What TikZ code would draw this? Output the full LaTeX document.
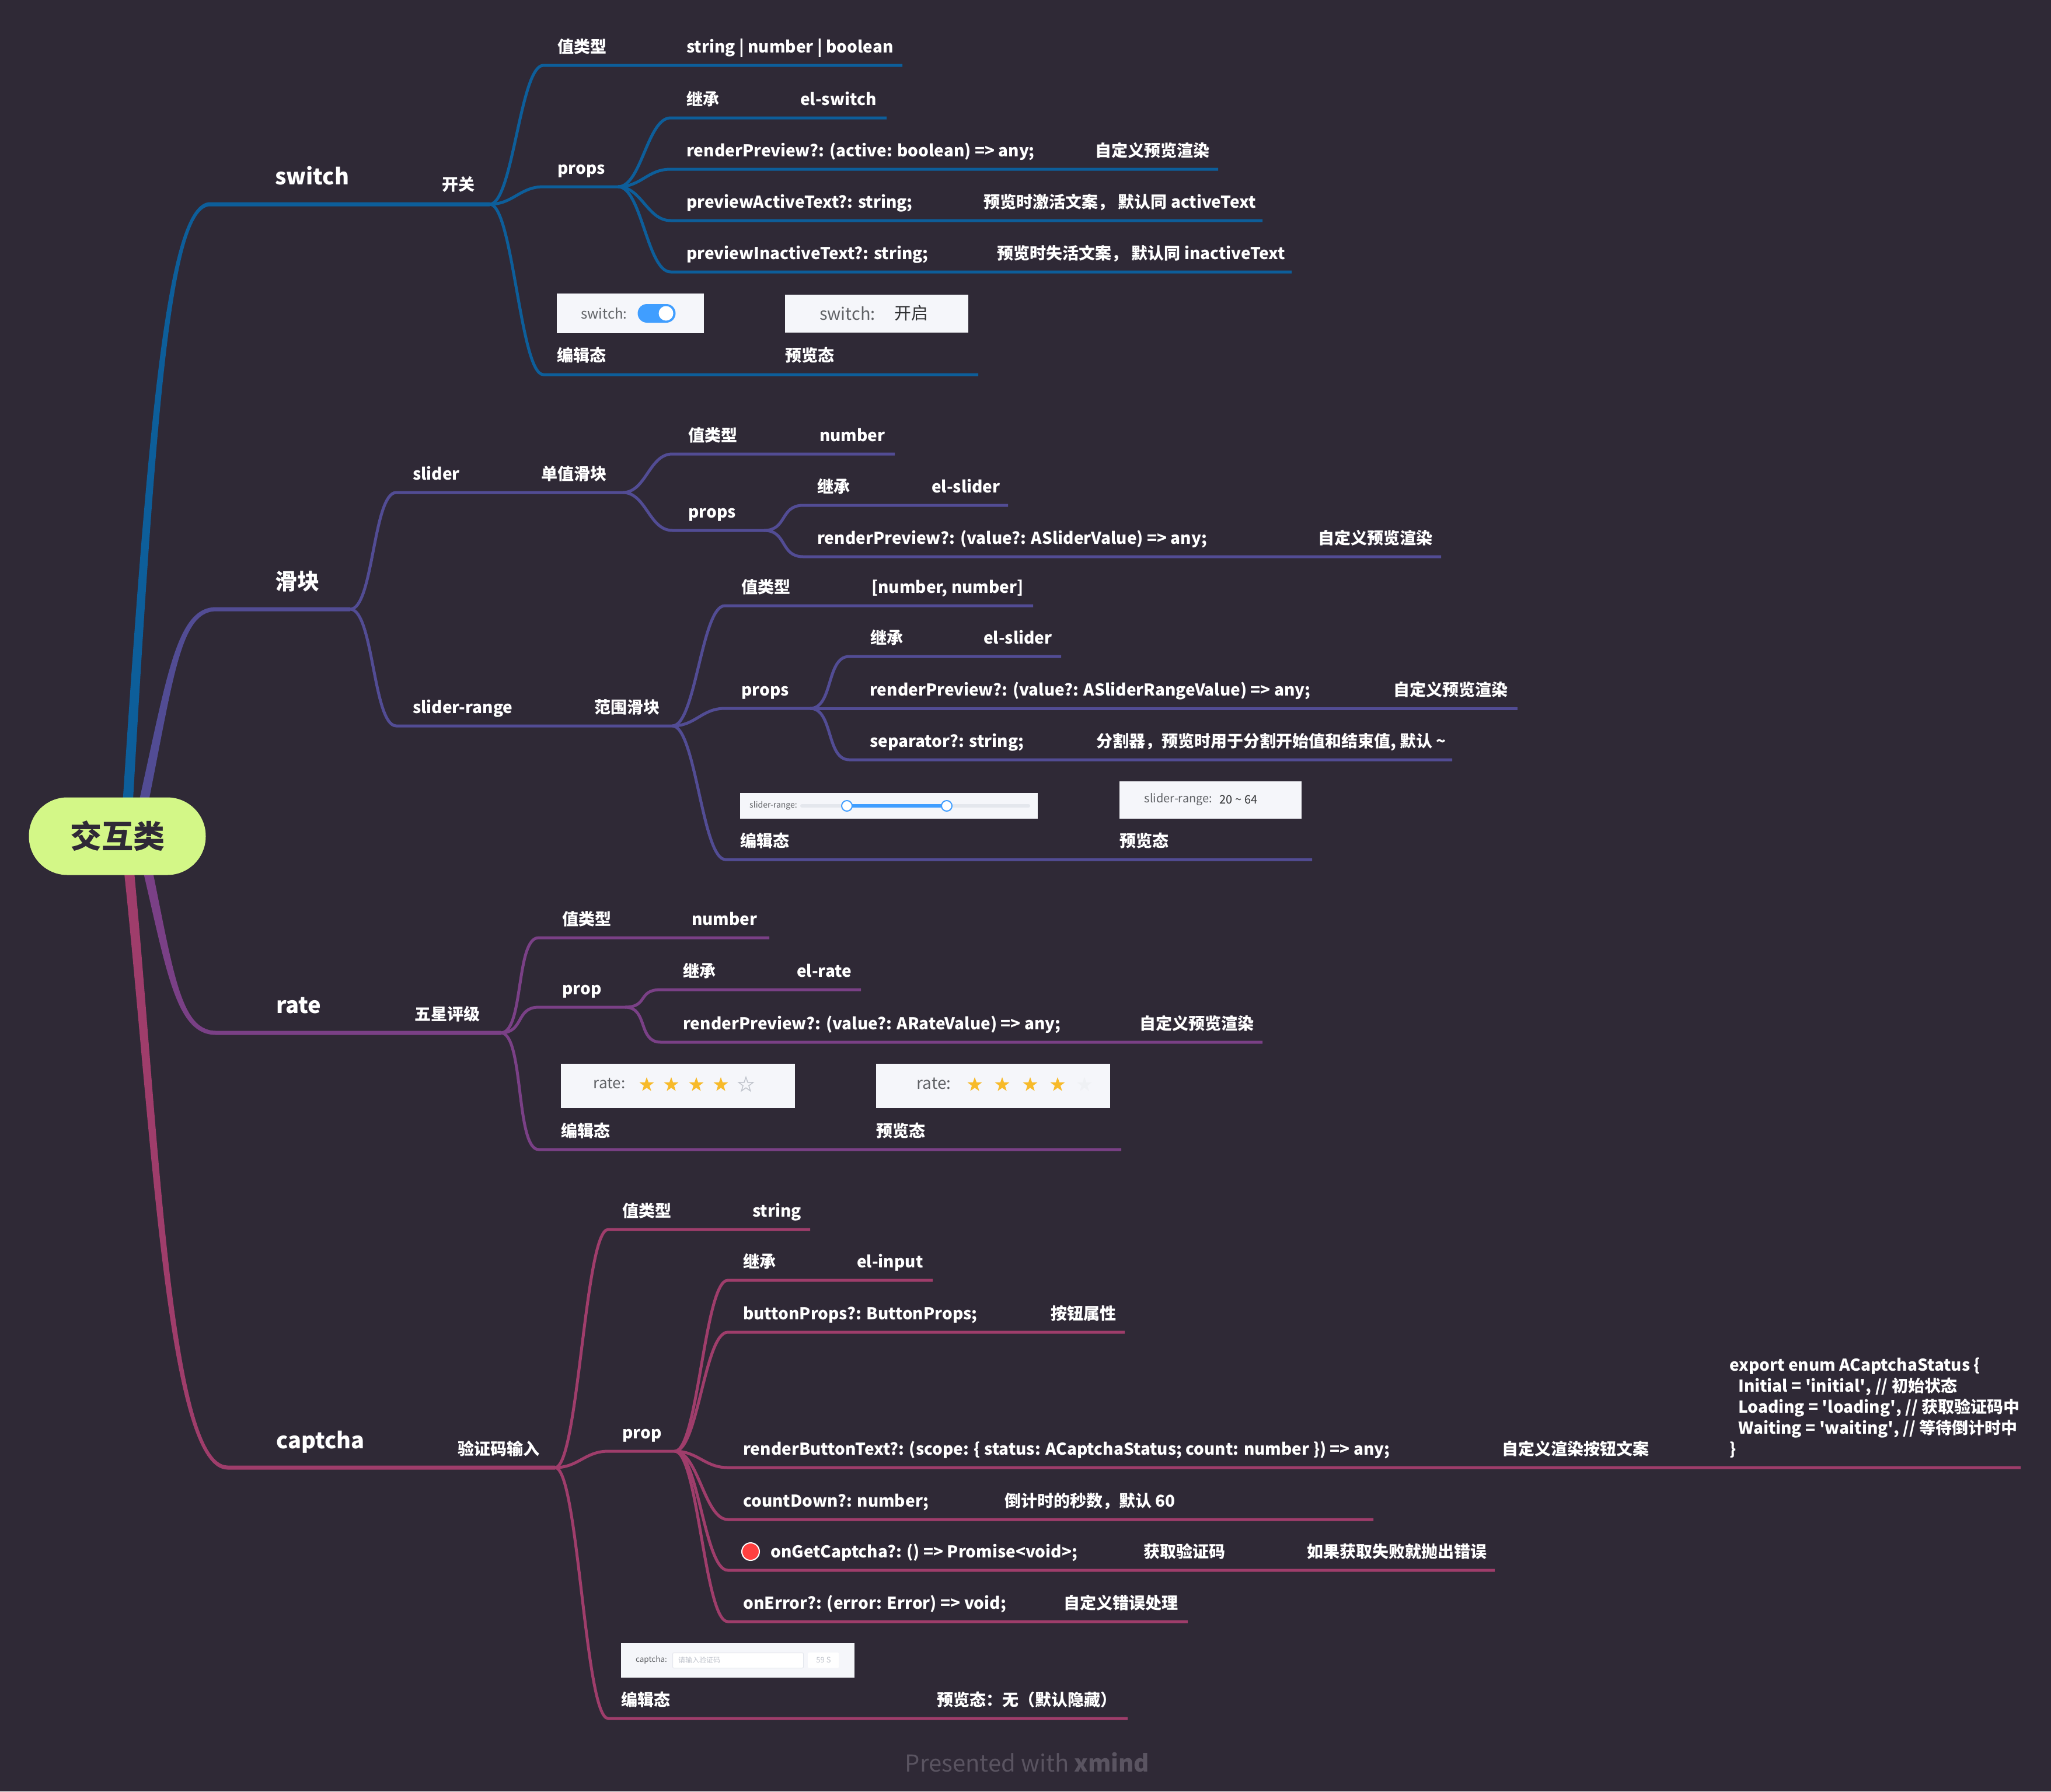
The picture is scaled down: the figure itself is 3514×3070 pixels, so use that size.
\documentclass[tikz,border=0pt]{standalone}
\usepackage{fontspec}
\setmainfont{Noto Sans CJK SC}
\usetikzlibrary{shapes.geometric}
\definecolor{bgc}{HTML}{2F2936}
\definecolor{rootc}{HTML}{D3F787}
\definecolor{swc}{HTML}{0D5E9A}
\definecolor{slc}{HTML}{524C94}
\definecolor{rtc}{HTML}{7A4086}
\definecolor{cpc}{HTML}{9F3D6B}
\definecolor{shotc}{HTML}{F5F6FA}
\definecolor{elblue}{HTML}{409EFF}
\definecolor{elgray}{HTML}{606266}
\definecolor{eltext}{HTML}{303133}
\definecolor{elline}{HTML}{E4E7ED}
\definecolor{elph}{HTML}{C0C4CC}
\definecolor{starc}{HTML}{F7BA2A}
\definecolor{footc}{HTML}{5A5461}
\tikzset{
  lbl/.style={anchor=base west, inner sep=0pt, text=white, font=\fontsize{28}{34}\selectfont\bfseries},
  topic/.style={lbl, font=\fontsize{38}{46}\selectfont\bfseries},
  twig/.style={line width=5pt},
  curv/.style={to path={.. controls +(40,0) and +(-40,0) .. (\tikztotarget)}},
  shot/.style={anchor=north west, fill=shotc, inner sep=0pt},
  uitxt/.style={inner sep=0pt, text=elgray},
  star5/.style={star, star points=5, star point ratio=2.5, minimum size=26pt, inner sep=0pt}
}
\begin{document}
\begin{tikzpicture}[x=1pt,y=-1pt]
\fill[bgc] (0,0) rectangle (3514,3070);
\useasboundingbox (0,0) rectangle (3514,3070);

\coordinate (swF) at (839,350);
\coordinate (slF) at (600,1044);
\coordinate (rtF) at (858,1770);
\coordinate (cpF) at (951,2515);
\fill[swc] (206,1440) .. controls (254,700) and (287,346.5) .. (360,346.5) -- (839,346.5)
  -- (839,353.5) -- (360,353.5) .. controls (293,353.5) and (266,700) .. (224,1440) -- cycle;
\fill[slc] (223,1440) .. controls (284,1180) and (296,1040.5) .. (370,1040.5) -- (600,1040.5)
  -- (600,1047.5) -- (370,1047.5) .. controls (304,1047.5) and (296,1180) .. (241,1440) -- cycle;
\fill[rtc] (231,1433) .. controls (284,1650) and (296,1773.5) .. (370,1773.5) -- (858,1773.5)
  -- (858,1766.5) -- (370,1766.5) .. controls (304,1766.5) and (296,1650) .. (249,1433) -- cycle;
\fill[cpc] (206,1433) .. controls (259,1900) and (281,2518.5) .. (390,2518.5) -- (951,2518.5)
  -- (951,2511.5) -- (390,2511.5) .. controls (289,2511.5) and (271,1900) .. (224,1433) -- cycle;
\node[fill=rootc, rounded corners=66pt, minimum width=303pt, minimum height=133pt, text=bgc, font=\fontsize{54}{60}\selectfont\bfseries] (root) at (201,1433) {交互类};

\node[topic] (sw) at (471,316) {switch};
\node[lbl] (swZh) at (757,326) {开关};
\coordinate (swT) at (931,112);
\coordinate (swTe) at (1546,112);
\coordinate (swP) at (931,320);
\coordinate (swPF) at (1059,320);
\coordinate (swV) at (931,642);
\coordinate (swVe) at (1676,642);
\draw[twig,swc] (swF) to[curv] (swT) -- (swTe);
\draw[twig,swc] (swF) to[curv] (swP) -- (swPF);
\draw[twig,swc] (swF) to[curv] (swV) -- (swVe);
\node[lbl] (swT1) at (955,90) {值类型};
\node[lbl] (swT2) at (1176,90) {string | number | boolean};
\node[lbl] (swP0) at (955,298) {props};
\coordinate (swP1) at (1149,202);
\coordinate (swP1e) at (1519,202);
\coordinate (swP2) at (1149,290);
\coordinate (swP2e) at (2087,290);
\coordinate (swP3) at (1149,378);
\coordinate (swP3e) at (2163,378);
\coordinate (swP4) at (1149,466);
\coordinate (swP4e) at (2213,466);
\draw[twig,swc] (swPF) to[curv] (swP1) -- (swP1e);
\draw[twig,swc] (swPF) to[curv] (swP2) -- (swP2e);
\draw[twig,swc] (swPF) to[curv] (swP3) -- (swP3e);
\draw[twig,swc] (swPF) to[curv] (swP4) -- (swP4e);
\node[lbl] (swP1a) at (1176,180) {继承};
\node[lbl] (swP1b) at (1371,180) {el-switch};
\node[lbl] (swP2a) at (1176,268) {renderPreview?: (active: boolean) => any;};
\node[lbl] (swP2b) at (1876,268) {自定义预览渲染};
\node[lbl] (swP3a) at (1176,356) {previewActiveText?: string;};
\node[lbl] (swP3b) at (1685,356) {预览时激活文案， 默认同 activeText};
\node[lbl] (swP4a) at (1176,444) {previewInactiveText?: string;};
\node[lbl] (swP4b) at (1708,444) {预览时失活文案， 默认同 inactiveText};
\node[shot, minimum width=252pt, minimum height=68pt] (swEdit) at (954,503) {};
\node[shot, minimum width=314pt, minimum height=65pt] (swPrev) at (1345,505) {};
\node[uitxt, font=\fontsize{24}{28}\selectfont] (swEditT) at (1035,537) {switch:};
\node[fill=elblue, rounded corners=16pt, minimum width=65pt, minimum height=32pt, inner sep=0pt] (swTog) at (1125,537) {};
\node[circle, fill=white, minimum size=25pt, inner sep=0pt] (swKnob) at (1141,537) {};
\node[uitxt, font=\fontsize{29}{34}\selectfont] (swPrevT) at (1452,537) {switch:};
\node[uitxt, text=eltext, font=\fontsize{29}{34}\selectfont] (swPrevV) at (1561,537) {开启};
\node[lbl] (swV1) at (954,619) {编辑态};
\node[lbl] (swV2) at (1345,619) {预览态};

\node[topic] (sl) at (471,1010) {滑块};
\coordinate (slA) at (679,844);
\coordinate (slAF) at (1067,844);
\coordinate (slB) at (679,1244);
\coordinate (slBF) at (1152,1244);
\draw[twig,slc] (slF) to[curv] (slA) -- (slAF);
\draw[twig,slc] (slF) to[curv] (slB) -- (slBF);
\node[lbl] (slA1) at (707,822) {slider};
\node[lbl] (slA2) at (927,822) {单值滑块};
\node[lbl] (slB1) at (707,1222) {slider-range};
\node[lbl] (slB2) at (1018,1222) {范围滑块};
\coordinate (slAT) at (1152,778);
\coordinate (slATe) at (1533,778);
\coordinate (slAP) at (1152,909);
\coordinate (slAPF) at (1309,909);
\draw[twig,slc] (slAF) to[curv] (slAT) -- (slATe);
\draw[twig,slc] (slAF) to[curv] (slAP) -- (slAPF);
\node[lbl] (slAT1) at (1179,756) {值类型};
\node[lbl] (slAT2) at (1404,756) {number};
\node[lbl] (slAP0) at (1179,887) {props};
\coordinate (slAP1) at (1376,866);
\coordinate (slAP1e) at (1727,866);
\coordinate (slAP2) at (1376,954);
\coordinate (slAP2e) at (2469,954);
\draw[twig,slc] (slAPF) to[curv] (slAP1) -- (slAP1e);
\draw[twig,slc] (slAPF) to[curv] (slAP2) -- (slAP2e);
\node[lbl] (slAP1a) at (1400,844) {继承};
\node[lbl] (slAP1b) at (1596,844) {el-slider};
\node[lbl] (slAP2a) at (1400,932) {renderPreview?: (value?: ASliderValue) => any;};
\node[lbl] (slAP2b) at (2258,932) {自定义预览渲染};
\coordinate (slBT) at (1242,1038);
\coordinate (slBTe) at (1770,1038);
\coordinate (slBP) at (1242,1214);
\coordinate (slBPF) at (1388,1214);
\coordinate (slBV) at (1243,1473);
\coordinate (slBVe) at (2248,1473);
\draw[twig,slc] (slBF) to[curv] (slBT) -- (slBTe);
\draw[twig,slc] (slBF) to[curv] (slBP) -- (slBPF);
\draw[twig,slc] (slBF) to[curv] (slBV) -- (slBVe);
\node[lbl] (slBT1) at (1270,1016) {值类型};
\node[lbl] (slBT2) at (1493,1016) {[number, number]};
\node[lbl] (slBP0) at (1270,1192) {props};
\coordinate (slBP1) at (1455,1125);
\coordinate (slBP1e) at (1818,1125);
\coordinate (slBP2) at (1455,1214);
\coordinate (slBP2e) at (2600,1214);
\coordinate (slBP3) at (1455,1302);
\coordinate (slBP3e) at (2488,1302);
\draw[twig,slc] (slBPF) to[curv] (slBP1) -- (slBP1e);
\draw[twig,slc] (slBPF) to[curv] (slBP2) -- (slBP2e);
\draw[twig,slc] (slBPF) to[curv] (slBP3) -- (slBP3e);
\node[lbl] (slBP1a) at (1491,1103) {继承};
\node[lbl] (slBP1b) at (1685,1103) {el-slider};
\node[lbl] (slBP2a) at (1490,1192) {renderPreview?: (value?: ASliderRangeValue) => any;};
\node[lbl] (slBP2b) at (2387,1192) {自定义预览渲染};
\node[lbl] (slBP3a) at (1490,1280) {separator?: string;};
\node[lbl] (slBP3b) at (1878,1280) {分割器，预览时用于分割开始值和结束值, 默认 \textasciitilde};
\node[shot, minimum width=510pt, minimum height=44pt] (slEdit) at (1268,1359) {};
\node[shot, minimum width=312pt, minimum height=64pt] (slPrev) at (1918,1339) {};
\node[uitxt, font=\fontsize{14}{16}\selectfont] (slEditT) at (1325,1381) {slider-range:};
\coordinate (slTr1) at (1374,1381);
\coordinate (slTr2) at (1762,1381);
\coordinate (slK1) at (1451,1381);
\coordinate (slK2) at (1622,1381);
\draw[elline, line width=6pt, line cap=round] (slTr1) -- (slTr2);
\draw[elblue, line width=6pt] (slK1) -- (slK2);
\node[circle, fill=white, draw=elblue, line width=2pt, minimum size=18pt, inner sep=0pt] (slKn1) at (slK1) {};
\node[circle, fill=white, draw=elblue, line width=2pt, minimum size=18pt, inner sep=0pt] (slKn2) at (slK2) {};
\node[uitxt, font=\fontsize{20}{24}\selectfont] (slPrevT) at (2019,1370) {slider-range:};
\node[uitxt, text=eltext, font=\fontsize{20}{24}\selectfont] (slPrevV) at (2122,1370) {20 \textasciitilde\ 64};
\node[lbl] (slBV1) at (1268,1451) {编辑态};
\node[lbl] (slBV2) at (1918,1451) {预览态};

\node[topic] (rt) at (473,1736) {rate};
\node[lbl] (rtZh) at (710,1748) {五星评级};
\coordinate (rtT) at (923,1607);
\coordinate (rtTe) at (1318,1607);
\coordinate (rtP) at (923,1726);
\coordinate (rtPF) at (1071,1726);
\coordinate (rtV) at (923,1970);
\coordinate (rtVe) at (1921,1970);
\draw[twig,rtc] (rtF) to[curv] (rtT) -- (rtTe);
\draw[twig,rtc] (rtF) to[curv] (rtP) -- (rtPF);
\draw[twig,rtc] (rtF) to[curv] (rtV) -- (rtVe);
\node[lbl] (rtT1) at (963,1585) {值类型};
\node[lbl] (rtT2) at (1185,1585) {number};
\node[lbl] (rtP0) at (963,1704) {prop};
\coordinate (rtP1) at (1132,1696);
\coordinate (rtP1e) at (1475,1696);
\coordinate (rtP2) at (1132,1786);
\coordinate (rtP2e) at (2163,1786);
\draw[twig,rtc] (rtPF) to[curv] (rtP1) -- (rtP1e);
\draw[twig,rtc] (rtPF) to[curv] (rtP2) -- (rtP2e);
\node[lbl] (rtP1a) at (1170,1674) {继承};
\node[lbl] (rtP1b) at (1365,1674) {el-rate};
\node[lbl] (rtP2a) at (1170,1764) {renderPreview?: (value?: ARateValue) => any;};
\node[lbl] (rtP2b) at (1952,1764) {自定义预览渲染};
\node[shot, minimum width=401pt, minimum height=76pt] (rtEdit) at (961,1823) {};
\node[shot, minimum width=401pt, minimum height=76pt] (rtPrev) at (1501,1823) {};
\node[uitxt, font=\fontsize{26}{30}\selectfont] (rtEditT) at (1044,1857) {rate:};
\foreach \x [count=\i] in {1108,1150,1193,1235}
  \node[star5, fill=starc] (rtEs\i) at (\x,1859) {};
\node[star5, draw=elph, line width=1.5pt] (rtEs5) at (1278,1859) {};
\node[uitxt, font=\fontsize{28}{32}\selectfont] (rtPrevT) at (1600,1857) {rate:};
\foreach \x [count=\i] in {1670,1717,1765,1812}
  \node[star5, fill=starc] (rtPs\i) at (\x,1859) {};
\node[star5, fill=elline!60] (rtPs5) at (1858,1859) {};
\node[lbl] (rtV1) at (961,1948) {编辑态};
\node[lbl] (rtV2) at (1501,1948) {预览态};

\node[topic] (cp) at (473,2482) {captcha};
\node[lbl] (cpZh) at (784,2493) {验证码输入};
\coordinate (cpT) at (1042,2107);
\coordinate (cpTe) at (1388,2107);
\coordinate (cpP) at (1042,2487);
\coordinate (cpPF) at (1156,2487);
\coordinate (cpV) at (1042,2945);
\coordinate (cpVe) at (1932,2945);
\draw[twig,cpc] (cpF) to[curv] (cpT) -- (cpTe);
\draw[twig,cpc] (cpF) to[curv] (cpP) -- (cpPF);
\draw[twig,cpc] (cpF) to[curv] (cpV) -- (cpVe);
\node[lbl] (cpT1) at (1066,2085) {值类型};
\node[lbl] (cpT2) at (1289,2085) {string};
\node[lbl] (cpP0) at (1066,2465) {prop};
\coordinate (cpP1) at (1247,2194);
\coordinate (cpP1e) at (1598,2194);
\coordinate (cpP2) at (1247,2283);
\coordinate (cpP2e) at (1927,2283);
\coordinate (cpP3) at (1247,2515);
\coordinate (cpP3e) at (3462,2515);
\coordinate (cpP4) at (1247,2604);
\coordinate (cpP4e) at (2353,2604);
\coordinate (cpP5) at (1247,2691);
\coordinate (cpP5e) at (2561,2691);
\coordinate (cpP6) at (1247,2779);
\coordinate (cpP6e) at (2035,2779);
\draw[twig,cpc] (cpPF) to[curv] (cpP1) -- (cpP1e);
\draw[twig,cpc] (cpPF) to[curv] (cpP2) -- (cpP2e);
\draw[twig,cpc] (cpPF) to[curv] (cpP3) -- (cpP3e);
\draw[twig,cpc] (cpPF) to[curv] (cpP4) -- (cpP4e);
\draw[twig,cpc] (cpPF) to[curv] (cpP5) -- (cpP5e);
\draw[twig,cpc] (cpPF) to[curv] (cpP6) -- (cpP6e);
\node[lbl] (cpP1a) at (1273,2172) {继承};
\node[lbl] (cpP1b) at (1468,2172) {el-input};
\node[lbl] (cpP2a) at (1273,2261) {buttonProps?: ButtonProps;};
\node[lbl] (cpP2b) at (1800,2261) {按钮属性};
\node[lbl] (cpP3a) at (1273,2493) {renderButtonText?: (scope: \{ status: ACaptchaStatus; count: number \}) => any;};
\node[lbl] (cpP3b) at (2573,2493) {自定义渲染按钮文案};
\node[lbl] (cpE1) at (2963,2349) {export enum ACaptchaStatus \{};
\node[lbl] (cpE2) at (2978,2385) {Initial = \textquotesingle initial\textquotesingle, // 初始状态};
\node[lbl] (cpE3) at (2978,2421) {Loading = \textquotesingle loading\textquotesingle, // 获取验证码中};
\node[lbl] (cpE4) at (2978,2457) {Waiting = \textquotesingle waiting\textquotesingle, // 等待倒计时中};
\node[lbl] (cpE5) at (2963,2493) {\}};
\node[lbl] (cpP4a) at (1273,2582) {countDown?: number;};
\node[lbl] (cpP4b) at (1721,2582) {倒计时的秒数，默认 60};
\node[circle, fill=red!75!white, draw=white, line width=2pt, minimum size=30pt, inner sep=0pt] (cpDot) at (1286,2659) {};
\node[lbl] (cpP5a) at (1320,2669) {onGetCaptcha?: () => Promise<void>;};
\node[lbl] (cpP5b) at (1959,2669) {获取验证码};
\node[lbl] (cpP5c) at (2239,2669) {如果获取失败就抛出错误};
\node[lbl] (cpP6a) at (1273,2757) {onError?: (error: Error) => void;};
\node[lbl] (cpP6b) at (1822,2757) {自定义错误处理};
\node[shot, minimum width=400pt, minimum height=59pt] (cpEdit) at (1064,2816) {};
\node[uitxt, font=\fontsize{13.5}{16}\selectfont] (cpEditT) at (1116,2845) {captcha:};
\node[anchor=north west, fill=white, draw=elline, line width=1pt, rounded corners=2pt, minimum width=224pt, minimum height=26pt, inner sep=0pt] (cpInput) at (1152,2832) {};
\node[anchor=west, inner sep=0pt, text=elph, font=\fontsize{12}{14}\selectfont] (cpHint) at (1162,2845) {请输入验证码};
\node[anchor=north west, fill=white, rounded corners=2pt, minimum width=53pt, minimum height=26pt, inner sep=0pt] (cpBtn) at (1384,2832) {};
\node[inner sep=0pt, text=elph, font=\fontsize{13}{16}\selectfont] (cpBtnT) at (1411,2845) {59 S};
\node[lbl] (cpV1) at (1064,2923) {编辑态};
\node[lbl] (cpV2) at (1605,2923) {预览态：无（默认隐藏）};

\node[text=footc, font=\fontsize{40}{48}\selectfont] (foot) at (1760,3020) {Presented with \textbf{xmind}};
\end{tikzpicture}
\end{document}
